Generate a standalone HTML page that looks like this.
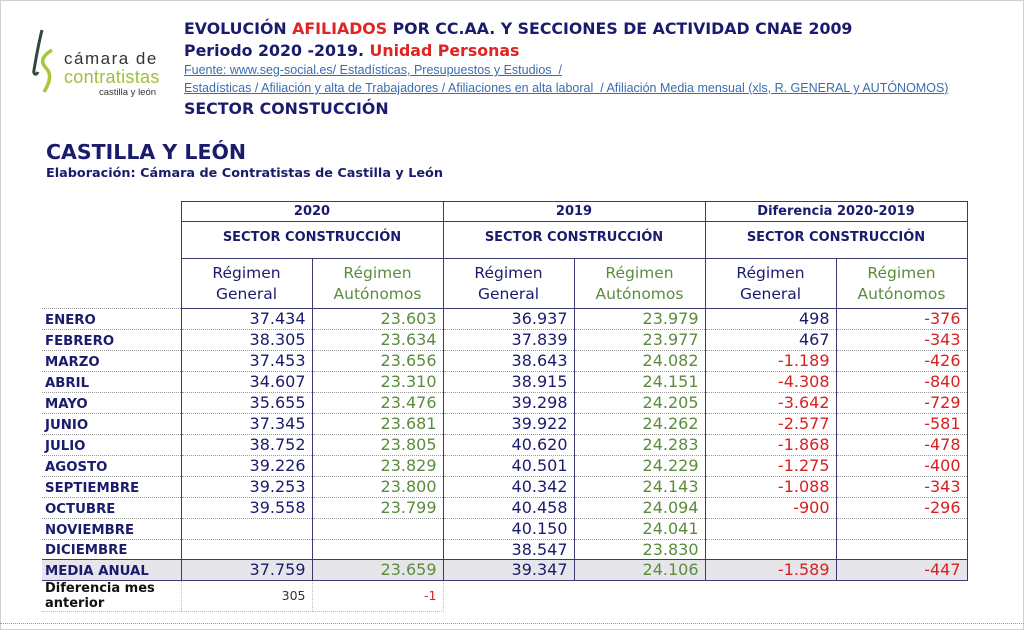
<!DOCTYPE html>
<html><head><meta charset="utf-8"><style>
body{margin:0;width:1024px;height:630px;background:#fff;position:relative;overflow:hidden;font-family:"DejaVu Sans",Verdana,sans-serif}
.frame{position:absolute;left:0;top:0;width:1022px;height:628px;border:1px solid #cfcfcf}
.t{position:absolute;white-space:nowrap;color:#1b1b6e;font-weight:bold}
.lnk{position:absolute;white-space:nowrap;color:#3a6db0;text-decoration:underline;font-family:"Liberation Sans",sans-serif;font-size:12.5px}
table{position:absolute;left:42px;top:201px;border-collapse:collapse;table-layout:fixed}
td{padding:0 6px;border-bottom:1px dotted #999;font-size:16px;line-height:18px;vertical-align:middle;text-align:right;color:#1b1b6e;overflow:hidden;white-space:nowrap}
td.l{text-align:left;font-weight:bold;font-size:13.3px;padding-left:3px;padding-top:3px;line-height:16px}
td.g{color:#5b8c3c}td.r{color:#d82020}
td.v{border-left:1px solid #3a3a70;border-right:1px solid #3a3a70}
tr.h td{text-align:center;font-weight:bold;font-size:13px;border:1px solid #3a3a70}
tr.h2 td{text-align:center;font-size:15.5px;line-height:21px;border:1px solid #3a3a70;white-space:normal}
tr.m td{background:#e6e6ea;border-top:1px solid #3a3a70;border-bottom:1px solid #3a3a70}
tr.d td{border-bottom:1px dotted #bbb;font-size:12.5px;color:#333}
tr.d td.v{border-left:1px dotted #bbb;border-right:1px dotted #bbb}
</style></head><body>
<div class="frame"></div>
<svg style="position:absolute;left:30px;top:26px" width="40" height="72" viewBox="0 0 40 72">
<path d="M12 4 C8 20,6 32,4 44 C3 48,6 50,8 46" stroke="#2e4a3e" stroke-width="3" fill="none"/>
<path d="M22 24 C12 30,10 36,16 42 C22 48,20 56,14 66" stroke="#a6c83a" stroke-width="3.5" fill="none"/>
</svg>
<div class="t" style="left:64px;top:49px;font-weight:normal;color:#333;font-size:17px;letter-spacing:1.5px;font-family:'Liberation Sans',sans-serif">cámara de</div>
<div class="t" style="left:64px;top:67px;font-weight:normal;color:#9cc03a;font-size:18px;letter-spacing:0.3px;font-family:'Liberation Sans',sans-serif">contratistas</div>
<div class="t" style="left:99px;top:87px;font-weight:normal;color:#333;font-size:9.5px;font-family:'Liberation Sans',sans-serif">castilla y león</div>

<div class="t" style="left:184px;top:19px;font-size:15.8px">EVOLUCIÓN <span style="color:#e02424">AFILIADOS</span> POR CC.AA. Y SECCIONES DE ACTIVIDAD CNAE 2009</div>
<div class="t" style="left:184px;top:41px;font-size:15.8px">Periodo 2020 -2019. <span style="color:#e02424">Unidad Personas</span></div>
<div class="lnk" style="left:184px;top:63px">Fuente: www.seg-social.es/ Estadísticas, Presupuestos y Estudios &nbsp;/</div>
<div class="lnk" style="left:184px;top:81px">Estadísticas / Afiliación y alta de Trabajadores / Afiliaciones en alta laboral &nbsp;/ Afiliación Media mensual (xls, R. GENERAL y AUTÓNOMOS)</div>
<div class="t" style="left:184px;top:99px;font-size:15.8px">SECTOR CONSTUCCIÓN</div>
<div class="t" style="left:46px;top:140px;font-size:20.5px">CASTILLA Y LEÓN</div>
<div class="t" style="left:46px;top:166px;font-size:12.8px">Elaboración: Cámara de Contratistas de Castilla y León</div>

<table>
<colgroup><col style="width:139px"><col style="width:131px"><col style="width:131px"><col style="width:131px"><col style="width:131px"><col style="width:131px"><col style="width:131px"></colgroup>
<tr class="h" style="height:20px"><td style="border:none;border-right:1px solid #3a3a70"></td><td colspan="2">2020</td><td colspan="2">2019</td><td colspan="2">Diferencia 2020-2019</td></tr>
<tr class="h" style="height:37px"><td style="border:none;border-right:1px solid #3a3a70"></td><td colspan="2" style="padding-bottom:5px">SECTOR CONSTRUCCIÓN</td><td colspan="2" style="padding-bottom:5px">SECTOR CONSTRUCCIÓN</td><td colspan="2" style="padding-bottom:5px">SECTOR CONSTRUCCIÓN</td></tr>
<tr class="h2" style="height:50px"><td style="border:none;border-right:1px solid #3a3a70;border-bottom:1px dotted #999"></td><td>Régimen General</td><td style="color:#5b8c3c">Régimen Autónomos</td><td>Régimen General</td><td style="color:#5b8c3c">Régimen Autónomos</td><td>Régimen General</td><td style="color:#5b8c3c">Régimen Autónomos</td></tr>
<tr style="height:21px"><td class="l">ENERO</td><td class="v">37.434</td><td class="v g">23.603</td><td class="v">36.937</td><td class="v g">23.979</td><td class="v">498</td><td class="v r">-376</td></tr>
<tr style="height:21px"><td class="l">FEBRERO</td><td class="v">38.305</td><td class="v g">23.634</td><td class="v">37.839</td><td class="v g">23.977</td><td class="v">467</td><td class="v r">-343</td></tr>
<tr style="height:21px"><td class="l">MARZO</td><td class="v">37.453</td><td class="v g">23.656</td><td class="v">38.643</td><td class="v g">24.082</td><td class="v r">-1.189</td><td class="v r">-426</td></tr>
<tr style="height:21px"><td class="l">ABRIL</td><td class="v">34.607</td><td class="v g">23.310</td><td class="v">38.915</td><td class="v g">24.151</td><td class="v r">-4.308</td><td class="v r">-840</td></tr>
<tr style="height:21px"><td class="l">MAYO</td><td class="v">35.655</td><td class="v g">23.476</td><td class="v">39.298</td><td class="v g">24.205</td><td class="v r">-3.642</td><td class="v r">-729</td></tr>
<tr style="height:21px"><td class="l">JUNIO</td><td class="v">37.345</td><td class="v g">23.681</td><td class="v">39.922</td><td class="v g">24.262</td><td class="v r">-2.577</td><td class="v r">-581</td></tr>
<tr style="height:21px"><td class="l">JULIO</td><td class="v">38.752</td><td class="v g">23.805</td><td class="v">40.620</td><td class="v g">24.283</td><td class="v r">-1.868</td><td class="v r">-478</td></tr>
<tr style="height:21px"><td class="l">AGOSTO</td><td class="v">39.226</td><td class="v g">23.829</td><td class="v">40.501</td><td class="v g">24.229</td><td class="v r">-1.275</td><td class="v r">-400</td></tr>
<tr style="height:21px"><td class="l">SEPTIEMBRE</td><td class="v">39.253</td><td class="v g">23.800</td><td class="v">40.342</td><td class="v g">24.143</td><td class="v r">-1.088</td><td class="v r">-343</td></tr>
<tr style="height:21px"><td class="l">OCTUBRE</td><td class="v">39.558</td><td class="v g">23.799</td><td class="v">40.458</td><td class="v g">24.094</td><td class="v r">-900</td><td class="v r">-296</td></tr>
<tr style="height:21px"><td class="l">NOVIEMBRE</td><td class="v"></td><td class="v g"></td><td class="v">40.150</td><td class="v g">24.041</td><td class="v"></td><td class="v r"></td></tr>
<tr style="height:20px"><td class="l">DICIEMBRE</td><td class="v"></td><td class="v g"></td><td class="v">38.547</td><td class="v g">23.830</td><td class="v"></td><td class="v r"></td></tr>
<tr class="m" style="height:21px"><td class="l">MEDIA ANUAL</td><td class="v">37.759</td><td class="v g">23.659</td><td class="v">39.347</td><td class="v g">24.106</td><td class="v r">-1.589</td><td class="v r">-447</td></tr>
<tr class="d" style="height:31px"><td class="l" style="color:#111;line-height:15px;white-space:normal;font-size:13px;padding-top:0">Diferencia mes anterior</td><td class="v">305</td><td class="v" style="color:#d82020">-1</td><td style="border:none"></td><td style="border:none"></td><td style="border:none"></td><td style="border:none"></td></tr>
</table>
<div style="position:absolute;left:0;top:623px;width:1024px;border-top:1px dotted #999"></div>
</body></html>
